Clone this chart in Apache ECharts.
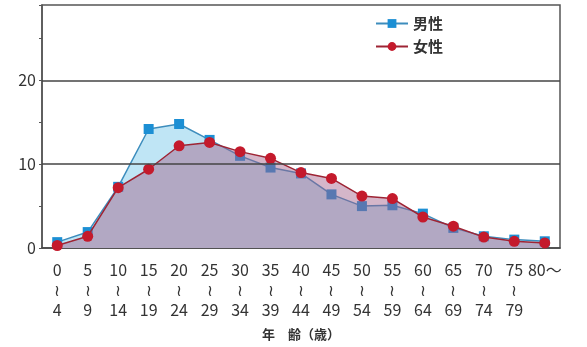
<!DOCTYPE html>
<html><head><meta charset="utf-8">
<script src="https://cdn.jsdelivr.net/npm/echarts@6/dist/echarts.min.js"></script>
<style>html,body{margin:0;padding:0;background:#fff}#c{width:587px;height:347px}</style>
</head><body><div id="c"></div>
<script>
var categories = ['0','5','10','15','20','25','30','35','40','45','50','55','60','65','70','75','80'];
var categoryEnds = ['4','9','14','19','24','29','34','39','44','49','54','59','64','69','74','79',''];
var maleValues = [0.7,1.9,7.3,14.2,14.8,12.9,11.0,9.6,8.9,6.4,5.0,5.1,4.1,2.4,1.4,1.0,0.8];
var femaleValues = [0.3,1.4,7.2,9.4,12.2,12.6,11.5,10.7,9.0,8.3,6.2,5.9,3.7,2.6,1.3,0.8,0.6];
var gridValues = [10, 20];
var seriesNames = ['男性','女性'];
var xAxisName = '年　齢（歳）';

var font = '"Noto Sans CJK JP", "Noto Sans", sans-serif';
var chart = echarts.init(document.getElementById('c'));
chart.setOption({
  animation: false,
  grid: {left: 42, right: 27, top: 5, bottom: 99, show: true, borderColor: '#555', borderWidth: 1.5, backgroundColor: 'transparent'},
  legend: {
    orient: 'vertical', left: 370, top: 11, itemGap: 8, itemWidth: 32, itemHeight: 11,
    textStyle: {fontFamily: font, fontSize: 15, color: '#333', fontWeight: 'bold'},
    data: seriesNames
  },
  xAxis: {
    type: 'category', data: categories, boundaryGap: true,
    axisLine: {lineStyle: {color: '#444', width: 1.5}},
    axisTick: {alignWithLabel: true, length: 5, lineStyle: {color: '#444', width: 1.5}},
    axisLabel: {
      interval: 0, margin: 12, fontFamily: font, fontSize: 16, color: '#333', lineHeight: 20,
      formatter: function (v, i) {
        if (categoryEnds[i] === '') return v + '～\n\n';
        return v + '\n≀\n' + categoryEnds[i];
      }
    },
    name: xAxisName, nameLocation: 'middle', nameGap: 80,
    nameTextStyle: {fontFamily: font, fontSize: 13, color: '#333', fontWeight: 'bold'}
  },
  yAxis: {
    type: 'value', min: 0, max: 29, interval: 5,
    axisLine: {show: true, lineStyle: {color: '#555', width: 1.5}},
    axisTick: {show: true, length: 3, lineStyle: {color: '#555'}},
    splitLine: {show: false},
    axisLabel: {
      fontFamily: font, fontSize: 16, color: '#333', margin: 6,
      formatter: function (v) { return v % 10 === 0 ? String(v) : ''; }
    }
  },
  series: [
    {
      name: seriesNames[0], type: 'line', data: maleValues,
      symbol: 'rect', symbolSize: 10, z: 3,
      itemStyle: {color: '#1c8fd4'},
      lineStyle: {color: '#3d8dbd', width: 1.5},
      areaStyle: {color: '#bfe5f5', opacity: 1},
      markLine: {
        silent: true, symbol: 'none', label: {show: false},
        lineStyle: {color: '#444', width: 1.5, type: 'solid'},
        data: gridValues.map(function (v) { return {yAxis: v}; })
      }
    },
    {
      name: seriesNames[1], type: 'line', data: femaleValues,
      symbol: 'circle', symbolSize: 11, z: 4,
      itemStyle: {color: '#c41a2c'},
      lineStyle: {color: '#9e2434', width: 1.5},
      areaStyle: {color: 'rgb(162,93,136)', opacity: 0.45}
    }
  ]
});
</script></body></html>
